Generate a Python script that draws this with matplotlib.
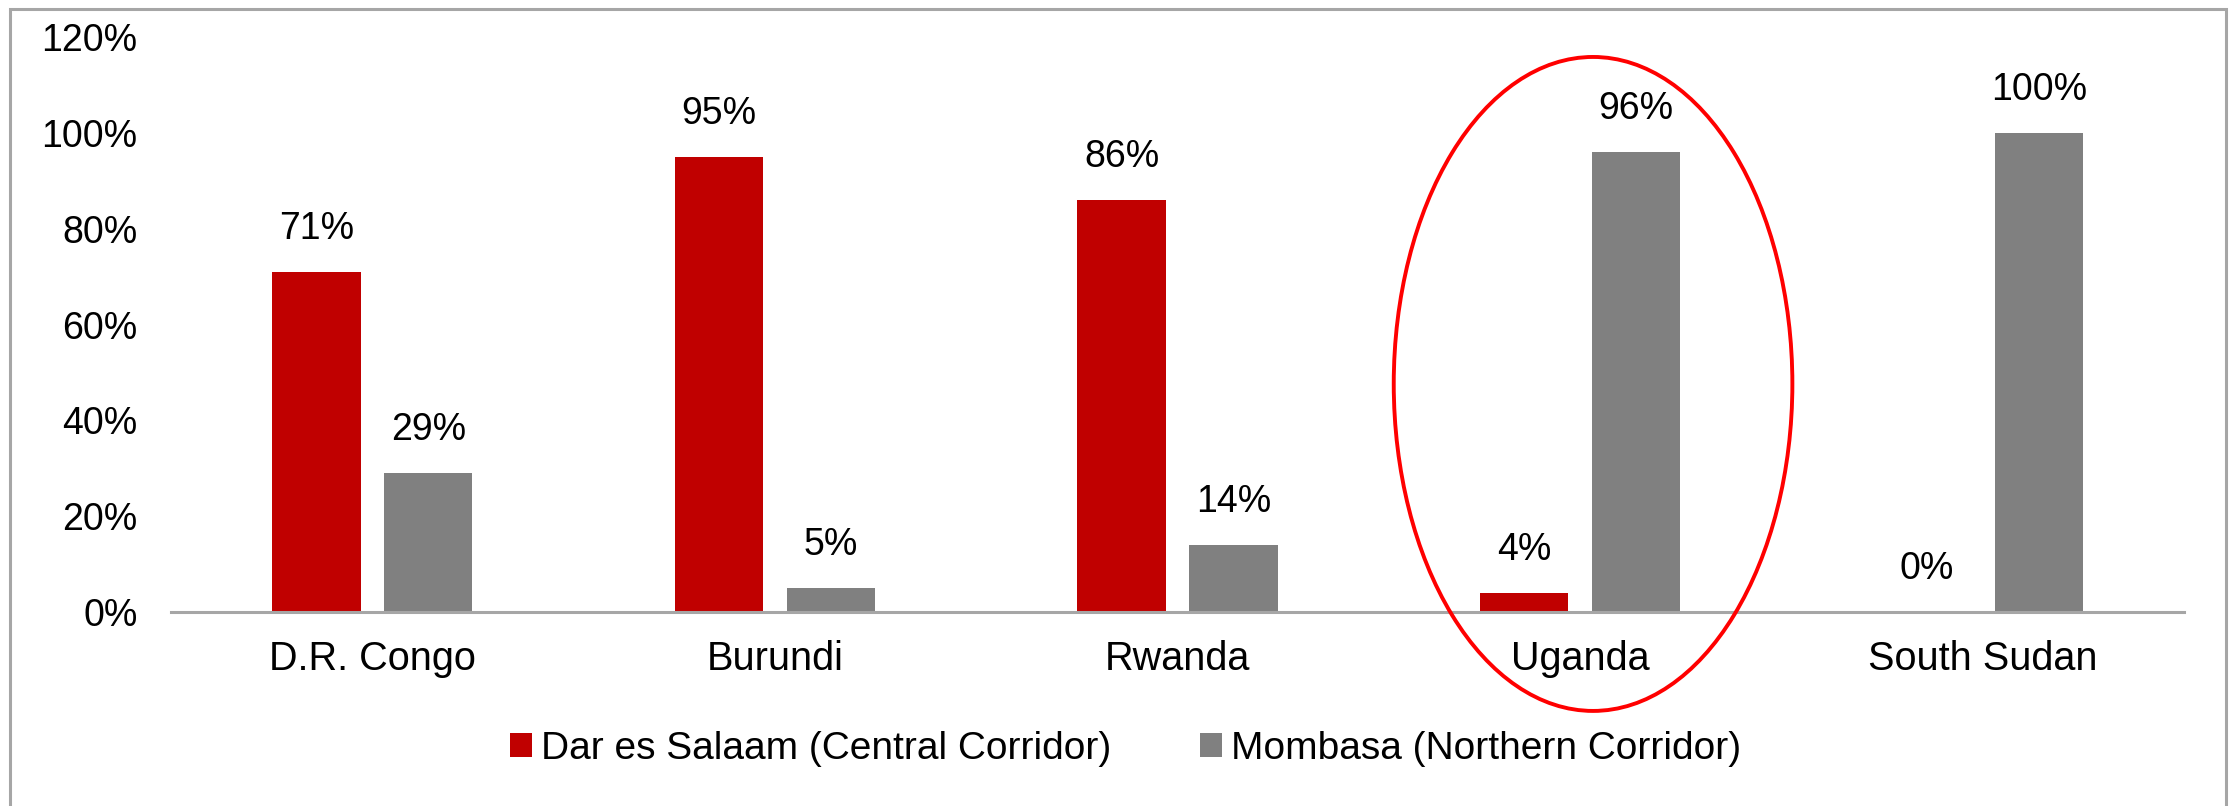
import numpy as np
import matplotlib
matplotlib.use('Agg')
import matplotlib.pyplot as plt
from matplotlib.patches import Ellipse, Rectangle, Patch

# ─────────────────────────────────────────────
# DATA
# ─────────────────────────────────────────────
countries  = ["D.R. Congo", "Burundi", "Rwanda", "Uganda", "South Sudan"]
dar_share  = [0.71, 0.95, 0.86, 0.04, 0.00]   # Dar es Salaam (Central Corridor)
mombasa    = [0.29, 0.05, 0.14, 0.96, 1.00]   # Mombasa (Northern Corridor)
yticks     = [0.0, 0.2, 0.4, 0.6, 0.8, 1.0, 1.2]
series_names = ["Dar es Salaam (Central Corridor)", "Mombasa (Northern Corridor)"]

RED  = '#C00000'
GREY = '#808080'

plt.rcParams['font.family'] = ['Liberation Sans', 'DejaVu Sans']

fig = plt.figure(figsize=(22.31, 8.06), dpi=100)
ax = fig.add_axes([0.0766, 0.2407, 0.9024, 0.7133])

x = np.arange(len(countries))
w = 0.22
off = 0.139
bars_r = ax.bar(x - off, dar_share, w, color=RED)
bars_g = ax.bar(x + off, mombasa, w, color=GREY)

# value labels above each bar
for bars, vals in [(bars_r, dar_share), (bars_g, mombasa)]:
    for b, v in zip(bars, vals):
        ax.annotate(f"{v*100:.0f}%", (b.get_x() + b.get_width() / 2, v),
                    xytext=(0, 31), textcoords='offset points',
                    ha='center', va='center', fontsize=27, color='black')

ax.set_xlim(-0.5, len(countries) - 0.5)
ax.set_ylim(0, 1.2)
ax.set_yticks(yticks)
ax.set_yticklabels([f"{t*100:.0f}%" for t in yticks])
ax.set_xticks(x)
ax.set_xticklabels(countries)
ax.tick_params(axis='y', length=0, pad=24, labelsize=27)
ax.tick_params(axis='x', length=0, pad=20, labelsize=28.5)

for s in ['top', 'right', 'left']:
    ax.spines[s].set_visible(False)
ax.spines['bottom'].set_color('#A6A6A6')
ax.spines['bottom'].set_linewidth(2.2)

# highlight Uganda
ax.add_patch(Ellipse((3.032, 0.476), 0.99, 1.365, fill=False,
                     edgecolor='#FF0000', linewidth=2.8, clip_on=False, zorder=5))

# legend
handles = [Patch(facecolor=RED), Patch(facecolor=GREY)]
fig.legend(handles, series_names, loc='center', bbox_to_anchor=(0.5045, 0.071),
           ncol=2, frameon=False, fontsize=28, handlelength=0.55, handleheight=0.55,
           handletextpad=0.23, columnspacing=2.3)

# outer chart frame
fig.patches.append(Rectangle((10 / 2231, -0.05), (2226 - 10) / 2231, (806 - 9) / 806 + 0.05,
                             transform=fig.transFigure, fill=False,
                             edgecolor='#A6A6A6', linewidth=2.2))

fig.savefig('out.png', dpi=100, facecolor='white')
plt.close()
